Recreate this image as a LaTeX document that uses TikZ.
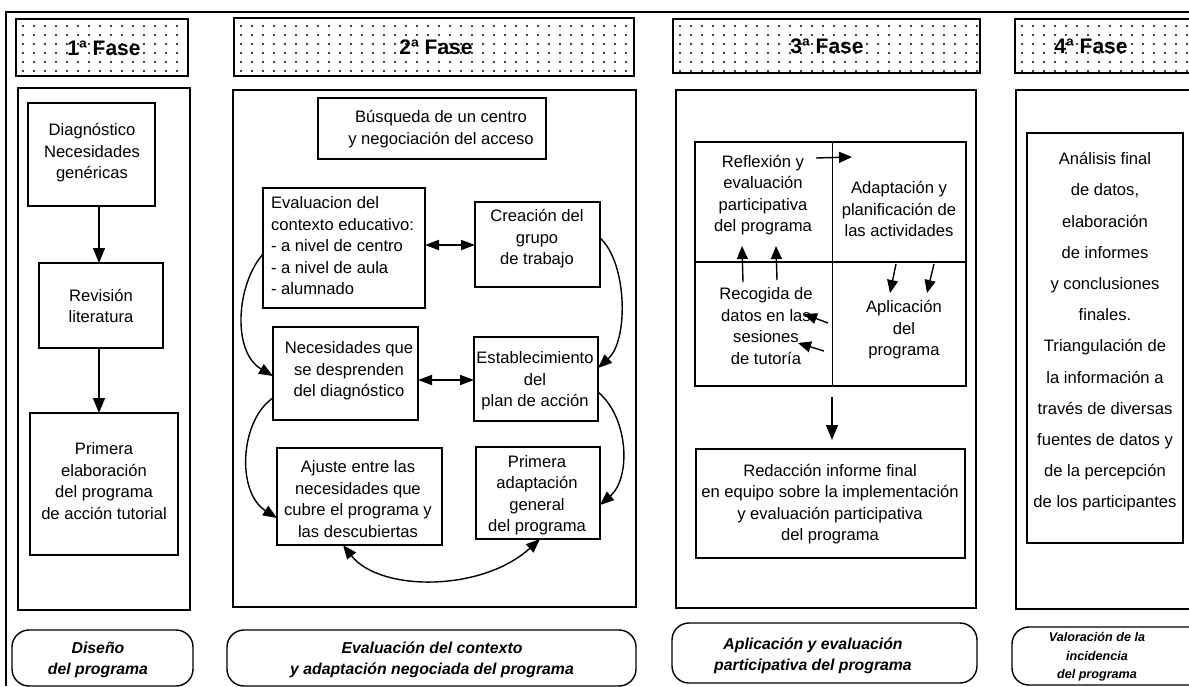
\documentclass[tikz,border=0pt]{standalone}
\usepackage{fontspec}
\setmainfont{Liberation Sans}
\usetikzlibrary{arrows.meta}

\tikzset{
  every node/.style={inner sep=0pt, outer sep=0pt},
  header/.style={draw, line width=2.8pt, anchor=north west},
  panel/.style={draw, line width=2.4pt, anchor=north west},
  stepbox/.style={draw, line width=1.4pt, anchor=north west},
  tag/.style={draw, line width=1.4pt, rounded corners=17pt, anchor=north west},
  txt/.style={align=center, font=\fontsize{16.6}{21.5}\selectfont},
  hdtxt/.style={font=\fontsize{21}{24}\selectfont\bfseries},
  tagtxt/.style={align=center, font=\fontsize{15.8}{20.5}\selectfont\bfseries\itshape},
  arr/.style={line width=1.4pt, -{Triangle[length=15pt,width=12pt]}},
  sarr/.style={line width=1.4pt, -{Triangle[length=13pt,width=11pt]}},
  dbl/.style={line width=1.8pt, {Triangle[length=14pt,width=10pt]}-{Triangle[length=14pt,width=10pt]}},
  curve/.style={line width=1.4pt, -{Triangle[length=14pt,width=11pt]}},
  dcurve/.style={line width=1.4pt, {Triangle[length=14pt,width=11pt]}-{Triangle[length=14pt,width=11pt]}},
}

\begin{document}
\begin{tikzpicture}[x=1pt,y=-1pt]
\useasboundingbox (0,0) rectangle (1189,686);
\clip (0,0) rectangle (1189,686);

% outer frame (left and top edges)
\coordinate (fl) at (6,686);
\coordinate (ft) at (6,12);
\coordinate (fr) at (1189,12);
\draw[line width=1.4pt] (fl) -- (ft) -- (fr);

% ---------- phase headers with dotted fill ----------
\node[header, minimum width=172pt, minimum height=57pt] (h1) at (16,19) {};
\node[header, minimum width=400pt, minimum height=58pt] (h2) at (234,18) {};
\node[header, minimum width=307pt, minimum height=54pt] (h3) at (673,19) {};
\node[header, minimum width=220pt, minimum height=54pt] (h4) at (1015,19) {};
\foreach \n/\a in {h1/16,h2/234,h3/673,h4/1015}{
  \begin{scope}
    \clip (\n.south west) rectangle (\n.north east);
    \foreach \i in {0,...,40}
      \foreach \y in {26,35,...,75}
        \fill ({\a+7+11*\i},\y) circle (1.1pt);
  \end{scope}
}
\node[hdtxt] (h1t) at (104,48) {1ª Fase};
\node[hdtxt] (h2t) at (436,47) {2ª Fase};
\node[hdtxt] (h3t) at (827,46) {3ª Fase};
\node[hdtxt] (h4t) at (1091,46) {4ª Fase};

% ---------- phase panels ----------
\node[panel, minimum width=172pt, minimum height=522pt] (b1) at (18,88) {};
\node[panel, minimum width=403pt, minimum height=517pt] (b2) at (233,90) {};
\node[panel, minimum width=300pt, minimum height=518pt] (b3) at (676,90) {};
\node[panel, minimum width=220pt, minimum height=519pt] (b4) at (1016,90) {};

% ---------- phase 1 ----------
\node[stepbox, minimum width=127pt, minimum height=103pt] (diag) at (28,103) {};
\node[txt] (diagt) at (92,153) {Diagnóstico\\Necesidades\\genéricas};
\node[stepbox, minimum width=124pt, minimum height=85pt] (rev) at (39,263) {};
\node[txt] (revt) at (101,306) {Revisión\\literatura};
\node[stepbox, minimum width=148pt, minimum height=142pt] (prim) at (30,413) {};
\node[txt] (primt) at (104,481) {Primera\\elaboración\\del programa\\de acción tutorial};
\draw[arr] (diag.south -| 99,0) -- (rev.north -| 99,0);
\draw[arr] (rev.south -| 99,0) -- (prim.north -| 99,0);

% ---------- phase 2 ----------
\node[stepbox, minimum width=228pt, minimum height=61pt] (busq) at (318,98) {};
\node[txt] (busqt) at (441,129) {Búsqueda de un centro\\y negociación del acceso};
\node[stepbox, minimum width=162pt, minimum height=120pt] (eval) at (263,188) {};
\node[txt, align=left, anchor=west] (evalt) at (271,246) {Evaluacion del\\contexto educativo:\\- a nivel de centro\\- a nivel de aula\\- alumnado};
\node[stepbox, minimum width=125pt, minimum height=85pt] (crea) at (475,202) {};
\node[txt] (creat) at (537,239) {Creación del\\grupo\\de trabajo};
\node[stepbox, minimum width=145pt, minimum height=93pt] (nec) at (273,327) {};
\node[txt] (nect) at (349,371) {Necesidades que\\se desprenden\\del diagnóstico};
\node[stepbox, minimum width=124pt, minimum height=84pt] (est) at (474,337) {};
\node[txt] (estt) at (535,381) {Establecimiento\\del\\plan de acción};
\node[stepbox, minimum width=165pt, minimum height=97pt] (aju) at (277,448) {};
\node[txt] (ajut) at (358,499) {Ajuste entre las\\necesidades que\\cubre el programa y\\las descubiertas};
\node[stepbox, minimum width=124pt, minimum height=92pt] (padap) at (476,447) {};
\node[txt] (padapt) at (537,495) {Primera\\adaptación\\general\\del programa};

\draw[dbl] (eval.east |- 0,245) -- (crea.west |- 0,245);
\draw[dbl] (nec.east |- 0,380) -- (est.west |- 0,380);
\draw[curve] (eval.west |- 0,254) .. controls (236,285) and (232,352) .. (nec.west |- 0,376);
\draw[curve] (crea.east |- 0,238) .. controls (627,262) and (629,340) .. (est.east |- 0,368);
\draw[curve] (nec.west |- 0,398) .. controls (240,420) and (236,492) .. (aju.west |- 0,518);
\draw[curve] (est.east |- 0,392) .. controls (629,418) and (631,478) .. (padap.east |- 0,505);
\draw[dcurve] (aju.south -| 343,0) .. controls (380,592) and (482,592) .. (padap.south -| 540,0);

% ---------- phase 3 ----------
\node[stepbox, line width=1.2pt, minimum width=271pt, minimum height=244pt] (grid) at (695,142) {};
\draw[line width=0.8pt] (grid.north -| 832,0) -- (grid.south -| 832,0);
\draw[line width=1.6pt] (grid.west |- 0,262) -- (grid.east |- 0,262);
\node[txt] (reft) at (763,195) {Reflexión y\\evaluación\\participativa\\del programa};
\node[txt] (adat) at (899,209) {Adaptación y\\planificación de\\las actividades};
\node[txt] (aplt) at (904,330) {Aplicación\\del\\programa};
\node[txt] (rect) at (766,326) {Recogida de\\datos en las\\sesiones\\de tutoría};

\coordinate (a1s) at (816,158);
\coordinate (a1e) at (852,157);
\coordinate (a2s) at (896,264);
\coordinate (a2e) at (890,293);
\coordinate (a3s) at (934,264);
\coordinate (a3e) at (927,293);
\coordinate (a4s) at (743,282);
\coordinate (a4e) at (742,246);
\coordinate (a5s) at (777,280);
\coordinate (a5e) at (776,246);
\coordinate (a6s) at (828,323);
\coordinate (a6e) at (804,314);
\coordinate (a7s) at (824,351);
\coordinate (a7e) at (798,343);
\foreach \k in {1,...,7}{\draw[sarr] (a\k s) -- (a\k e);}

\node[stepbox, minimum width=269pt, minimum height=109pt] (red) at (696,449) {};
\node[txt] (redt) at (830,504) {Redacción informe final\\en equipo sobre la implementación\\y evaluación participativa\\del programa};
\draw[arr, shorten <=11pt, shorten >=9pt] (grid.south -| 832,0) -- (red.north -| 832,0);

% ---------- phase 4 ----------
\node[stepbox, minimum width=156pt, minimum height=410pt] (ana) at (1027,133) {};
\node[txt, font=\fontsize{16.6}{31.2}\selectfont] (anat) at (1105,332) {Análisis final\\de datos,\\elaboración\\de informes\\y conclusiones\\finales.\\Triangulación de\\la información a\\través de diversas\\fuentes de datos y\\de la percepción\\de los participantes};

% ---------- phase names ----------
\node[tag, minimum width=181pt, minimum height=56pt] (l1) at (12,630) {};
\node[tagtxt] (l1t) at (98,660) {Diseño\\del programa};
\node[tag, minimum width=409pt, minimum height=56pt] (l2) at (227,630) {};
\node[tagtxt] (l2t) at (432,660) {Evaluación del contexto\\y adaptación negociada del programa};
\node[tag, minimum width=305pt, minimum height=60pt] (l3) at (672,623) {};
\node[tagtxt] (l3t) at (813,656) {Aplicación y evaluación\\participativa del programa};
\node[tag, minimum width=200pt, minimum height=58pt] (l4) at (1012,627) {};
\node[tagtxt, font=\fontsize{12.6}{18.5}\selectfont\bfseries\itshape] (l4t) at (1097,657) {Valoración de la\\incidencia\\del programa};
\end{tikzpicture}
\end{document}
